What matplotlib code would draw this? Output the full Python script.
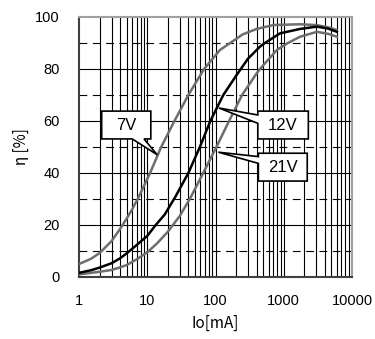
import numpy as np
import matplotlib
matplotlib.use('Agg')
import matplotlib.pyplot as plt
from matplotlib.patches import Polygon

# efficiency vs output current
io_7v = [1, 1.5, 2, 3, 4, 5, 6, 7.5, 11, 16, 25, 40, 68, 116, 175, 250, 400, 700, 1700, 3000, 4500, 6000]
eta_7v = [5, 7, 9.2, 13.8, 18.5, 22.5, 26, 30.8, 40, 50, 60, 70, 80, 87.3, 90.5, 93.3, 95.4, 96.9, 97.2, 96.9, 96, 95]

io_12v = [1, 1.5, 2, 3, 4, 5, 7, 10, 13.3, 18, 26, 40, 59, 84, 130, 204, 300, 448, 530, 880, 1730, 3060, 4500, 6000]
eta_12v = [1.6, 2.6, 3.6, 5.3, 7.2, 9.1, 12.3, 15.8, 20, 24, 31, 40, 50, 60, 70, 77.7, 84, 88.6, 90, 93.7, 95.4, 96.3, 95.5, 94.3]

io_21v = [1, 2, 3, 4, 5, 7, 10, 14, 20, 30, 43, 66, 103, 158, 245, 400, 448, 790, 1150, 1730, 3060, 4500, 6000]
eta_21v = [1.0, 2.0, 2.7, 3.7, 4.6, 6.8, 9.5, 13, 17.4, 23.5, 30.5, 40, 50, 60, 70, 78.3, 80, 87.3, 90, 92.4, 94.3, 93.5, 92.4]

x_ticks = [1, 10, 100, 1000, 10000]
x_ticklabels = ['1', '10', '100', '1000', '10000']
y_ticks = [0, 20, 40, 60, 80, 100]

plt.rcParams['font.family'] = ['Liberation Sans', 'DejaVu Sans']

fig = plt.figure(figsize=(3.75, 3.39), dpi=100)
ax = fig.add_axes([0.2107, 0.1829, 0.728, 0.767])

ax.set_xscale('log')
ax.set_xlim(1, 10000)
ax.set_ylim(0, 100)

# grid
for v in range(10, 100, 20):
    ax.axhline(v, color='black', lw=0.8, ls=(0, (7, 5)), zorder=1)
for v in range(20, 100, 20):
    ax.axhline(v, color='black', lw=0.8, zorder=1)
for dec in [1, 10, 100, 1000]:
    for m in range(1, 10):
        if dec * m > 1:
            ax.axvline(dec * m, color='black', lw=0.8, zorder=1)

gray = '#6e6e6e'
ax.plot(io_7v, eta_7v, color=gray, lw=1.8, zorder=3)
ax.plot(io_21v, eta_21v, color=gray, lw=1.8, zorder=3)
ax.plot(io_12v, eta_12v, color='black', lw=1.8, zorder=3)

ax.set_xticks(x_ticks)
ax.set_xticklabels(x_ticklabels)
ax.set_yticks(y_ticks)
ax.xaxis.set_minor_locator(matplotlib.ticker.NullLocator())
ax.tick_params(axis='both', length=0, labelsize=10.5)
ax.tick_params(axis='x', pad=12)
ax.tick_params(axis='y', pad=14)

for s in ['left', 'bottom']:
    ax.spines[s].set_color('#404040')
    ax.spines[s].set_linewidth(1.5)
for s in ['top', 'right']:
    ax.spines[s].set_color('#a0a0a0')
    ax.spines[s].set_linewidth(1.5)

ax.set_xlabel('Io[mA]', family=['Noto Sans CJK JP', 'DejaVu Sans'], fontsize=11, labelpad=5)
ax.set_ylabel('η [%]', family=['Noto Sans CJK JP', 'DejaVu Sans'], fontsize=11, labelpad=4)

# callout labels: box in axes fraction, tip in data
to_ax = ax.transData + ax.transAxes.inverted()

def callout(text, x0, x1, y0, y1, tip, side, b0, b1):
    tx, ty = to_ax.transform(tip)
    if side == 'bottom':
        pts = [(x0, y0), (b0, y0), (tx, ty), (b1, y0), (x1, y0), (x1, y1), (x0, y1)]
    else:
        pts = [(x0, y0), (x1, y0), (x1, y1), (x0, y1), (x0, b0), (tx, ty), (x0, b1)]
    ax.add_patch(Polygon(pts, closed=True, transform=ax.transAxes, fc='white',
                         ec='black', lw=1.2, zorder=5, joinstyle='miter'))
    ax.text((x0 + x1) / 2, (y0 + y1) / 2, text, transform=ax.transAxes,
            ha='center', va='center', fontsize=12, zorder=6)

callout('7V', 0.083, 0.263, 0.531, 0.638, (14, 47), 'bottom', 0.195, 0.238)
callout('12V', 0.655, 0.840, 0.531, 0.638, (112, 65), 'left', 0.623, 0.591)
callout('21V', 0.657, 0.836, 0.369, 0.476, (110, 48), 'left', 0.463, 0.437)

fig.savefig('out.png', dpi=100)
